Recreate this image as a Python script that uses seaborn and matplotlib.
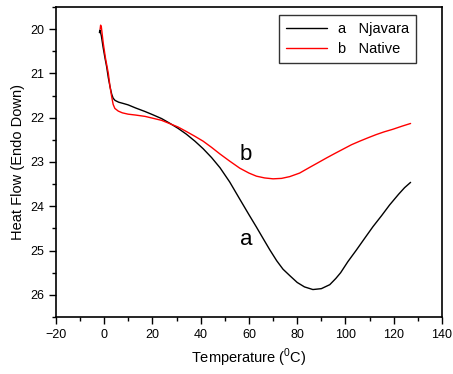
import numpy as np
import pandas as pd
import matplotlib
matplotlib.use("Agg")
import matplotlib.pyplot as plt
import seaborn as sns
from matplotlib.ticker import MultipleLocator

# DSC thermograms: temperature (deg C) vs heat flow (endo down)
temp_njavara = [-2.0, -1.8, -1.2, -0.5, 0.3, 1.0, 1.7, 2.4, 3.1, 3.7, 4.5, 6.0, 8.0,
                9.9, 13.0, 16.9, 20.0, 23.8, 27.0, 30.6, 34.0, 37.6, 41.0, 44.5, 48.0,
                52.0, 56.2, 60.0, 63.1, 66.0, 68.6, 71.5, 74.1, 77.0, 80.0, 83.0,
                86.5, 90.0, 93.5, 96.0, 98.0, 101.0, 104.5, 108.0, 111.4, 115.0,
                118.3, 122.0, 124.5, 127.0]
flow_njavara = [20.08, 20.02, 20.15, 20.40, 20.65, 20.85, 21.10, 21.30, 21.47, 21.56,
                21.61, 21.65, 21.68, 21.71, 21.78, 21.86, 21.93, 22.02, 22.12, 22.24,
                22.37, 22.53, 22.70, 22.90, 23.13, 23.45, 23.84, 24.19, 24.47, 24.74,
                24.98, 25.23, 25.42, 25.57, 25.72, 25.82, 25.88, 25.86, 25.77, 25.63,
                25.50, 25.25, 24.99, 24.72, 24.46, 24.21, 23.97, 23.73, 23.58, 23.46]

temp_native = [-1.7, -1.5, -1.2, -0.4, 0.5, 1.7, 2.4, 3.1, 3.7, 4.4, 5.8, 7.5, 9.9,
               13.0, 16.9, 20.0, 23.8, 27.0, 30.6, 34.0, 37.6, 41.0, 44.5, 48.0, 52.0,
               56.2, 60.0, 63.1, 66.5, 70.0, 73.5, 76.9, 81.0, 85.2, 88.5, 92.1, 95.5,
               99.0, 102.5, 105.9, 109.5, 112.8, 116.0, 119.7, 123.5, 127.0]
flow_native = [20.00, 19.91, 19.95, 20.32, 20.65, 21.00, 21.30, 21.53, 21.70, 21.79,
               21.85, 21.89, 21.92, 21.94, 21.97, 22.01, 22.06, 22.13, 22.21, 22.31,
               22.42, 22.53, 22.67, 22.82, 22.98, 23.14, 23.25, 23.32, 23.36, 23.38,
               23.37, 23.33, 23.25, 23.12, 23.02, 22.91, 22.81, 22.71, 22.61, 22.53,
               22.45, 22.38, 22.32, 22.26, 22.19, 22.13]

series_labels = ["a   Njavara", "b   Native"]
curve_tags = ["a", "b"]
tag_positions = [(58.7, 24.76), (58.7, 22.84)]

df = pd.concat([
    pd.DataFrame({"T": temp_njavara, "HF": flow_njavara, "sample": series_labels[0]}),
    pd.DataFrame({"T": temp_native, "HF": flow_native, "sample": series_labels[1]}),
])

sns.set_style("ticks")
plt.rcParams["font.family"] = ["Liberation Sans", "DejaVu Sans"]
plt.rcParams["mathtext.fontset"] = "custom"
plt.rcParams["mathtext.rm"] = "Liberation Sans"
plt.rcParams["text.color"] = "black"
plt.rcParams["axes.labelcolor"] = "black"

fig = plt.figure(figsize=(4.53, 3.74), dpi=100)
ax = fig.add_axes([0.1236, 0.1524, 0.852, 0.8289])

sns.lineplot(data=df, x="T", y="HF", hue="sample", palette=["black", "red"],
             sort=False, estimator=None, linewidth=1.0, ax=ax)

ax.set_xlim(-20, 140)
ax.set_ylim(26.5, 19.5)
ax.xaxis.set_major_locator(MultipleLocator(20))
ax.xaxis.set_minor_locator(MultipleLocator(10))
ax.yaxis.set_major_locator(MultipleLocator(1))
ax.yaxis.set_minor_locator(MultipleLocator(0.5))
ax.tick_params(which="major", length=5, width=1, labelsize=9, color="black", labelcolor="black")
ax.tick_params(which="minor", length=3, width=1, color="black")
for s in ax.spines.values():
    s.set_linewidth(1.2)
    s.set_color("black")

ax.set_xlabel("Temperature ($^{0}$C)", fontsize=10.5, color="black")
ax.set_ylabel("Heat Flow (Endo Down)", fontsize=10.5, color="black")

for tag, (tx, ty) in zip(curve_tags, tag_positions):
    ax.text(tx, ty, tag, fontsize=16, ha="center", va="center", color="black")

leg = ax.legend(title=None, loc="upper right", bbox_to_anchor=(0.933, 0.974),
                borderaxespad=0.0, frameon=True, fancybox=False, fontsize=10.5,
                handlelength=2.8, borderpad=0.45, labelspacing=0.45)
leg.get_frame().set_edgecolor("black")
leg.get_frame().set_linewidth(1.0)
for t in leg.get_texts():
    t.set_color("black")
for line in leg.get_lines():
    line.set_linewidth(1.0)

fig.savefig("out.png", dpi=100)
